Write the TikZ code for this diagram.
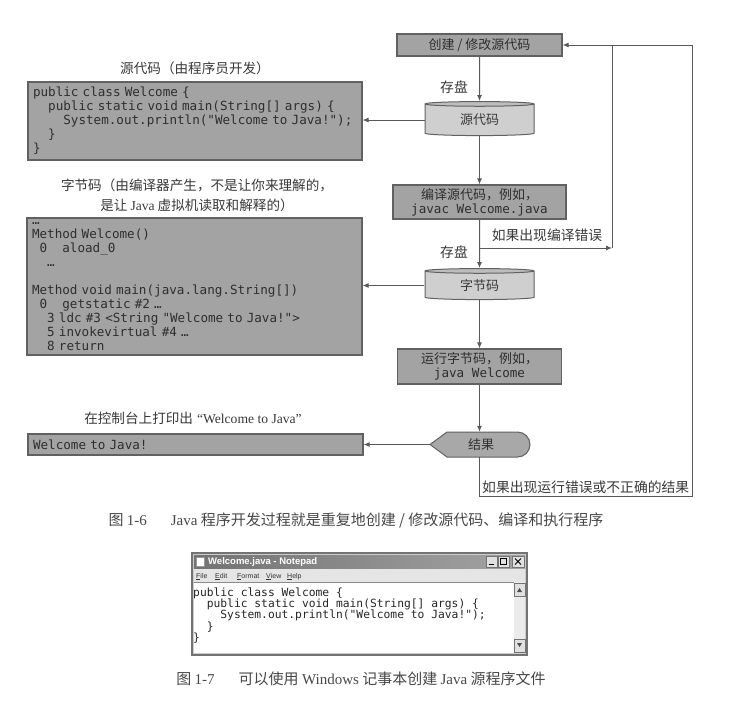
\documentclass[tikz,border=0pt]{standalone}
\usepackage{fontspec}
\setmainfont{Liberation Serif}
\setsansfont{Liberation Sans}
\setmonofont{DejaVu Sans Mono}
\newfontfamily\cjk{Noto Sans CJK SC}
\usetikzlibrary{arrows.meta,shapes.geometric}
\newcommand\codefont{\ttfamily\fontsize{12.6}{14}\selectfont}
\newcommand\ind[1]{\hspace*{\dimexpr#1\fontcharwd\font`0\relax}}

\begin{document}
\begin{tikzpicture}[
  x=1pt,y=-1pt,
  stepbox/.style={
    draw=black!62,fill=black!36,line width=1.1pt,inner sep=0pt,
    align=center,text=black!82,font=\cjk\fontsize{13}{14}\selectfont
  },
  codebox/.style={
    draw=black!62,fill=black!36,line width=1.1pt,inner xsep=5pt,
    inner ysep=0pt,align=left,text=black!82,font=\codefont
  },
  drum/.style={
    cylinder,shape border rotate=90,aspect=0.12,draw=black!62,
    line width=1pt,cylinder uses custom fill,cylinder body fill=black!19,
    cylinder end fill=black!26,minimum width=109,minimum height=34,
    inner sep=0pt,text=black!78,font=\cjk\fontsize{13}{14}\selectfont
  },
  resultfill/.style={draw=black!62,fill=black!34,line width=1pt},
  flowarrow/.style={-{Latex[length=6pt,width=5pt]},draw=black!65,line width=1pt},
  flowline/.style={draw=black!65,line width=1pt},
  flowlabel/.style={font=\cjk\fontsize{13.8}{15}\selectfont,text=black!78,inner sep=1pt},
  boxtitle/.style={font=\cjk\fontsize{13.6}{20}\selectfont,text=black!78,align=center},
  figcaption/.style={font=\cjk\fontsize{15}{16}\selectfont,text=black!72},
  wintitle/.style={font=\sffamily\bfseries\fontsize{9.5}{10}\selectfont,text=white,inner sep=0pt},
  winmenu/.style={font=\sffamily\fontsize{7}{8}\selectfont,text=black!80,inner sep=0pt},
  padcode/.style={font=\ttfamily\fontsize{11.3}{11.3}\selectfont,text=black!85,align=left,inner sep=0pt},
  winbutton/.style={draw=black!55,fill=black!12,line width=.6pt}
]
  \useasboundingbox (0,0) rectangle (736,712);

  % flow chart on the right
  \node[stepbox,minimum width=165,minimum height=22] (create) at (479.5,45) {创建 / 修改源代码};
  \node[drum] (srcdb) at (479.5,120) {源代码};
  \node[stepbox,minimum width=173,minimum height=34] (compile) at (479.5,202)
    {编译源代码，例如，\\{\codefont javac Welcome.java}};
  \node[drum,minimum height=31] (bcdb) at (479.5,285.5) {字节码};
  \node[stepbox,minimum width=164,minimum height=35] (run) at (479.5,366.5)
    {运行字节码，例如，\\{\codefont java Welcome}};
  \draw[resultfill] (430,444.5) -- (447,432) -- (517.5,432)
    arc[start angle=-90,end angle=90,radius=12.5] -- (447,457) -- cycle;
  \node[minimum width=99,minimum height=25,inner sep=0pt,text=black!80,
    font=\cjk\fontsize{13}{14}\selectfont] (res) at (479.5,444.5) {\hspace{3pt}结果};

  % what each step gives
  \node[codebox,text width=324,minimum height=78] (srccode) at (195,121) {%
public class Welcome \{\\
\ind{2}public static void main(String[] args) \{\\
\ind{4}System.out.println("Welcome to Java!");\\
\ind{2}\}\\
\}};
  \node[codebox,text width=325,minimum height=137] (bccode) at (194.5,286.5) {%
…\\
Method Welcome()\\
\ind{1}0\ind{2}aload\_0\\
\ind{2}…\\
\mbox{}\\
Method void main(java.lang.String[])\\
\ind{1}0\ind{2}getstatic \#2 …\\
\ind{2}3 ldc \#3 <String "Welcome to Java!">\\
\ind{2}5 invokevirtual \#4 …\\
\ind{2}8 return};
  \node[codebox,text width=325,minimum height=21] (outbox) at (195.5,444.5) {Welcome to Java!};

  \node[boxtitle] (srctitle) at (195,68) {源代码（由程序员开发）};
  \node[boxtitle] (bctitle) at (197,195)
    {字节码（由编译器产生，不是让你来理解的，\\是让 {\rmfamily Java} 虚拟机读取和解释的）};
  \node[boxtitle] (outtitle) at (193,418) {在控制台上打印出\hspace{4pt}{\rmfamily “Welcome to Java”}};

  \draw[flowarrow] (create) -- (srcdb);
  \draw[flowarrow] (srcdb) -- (compile);
  \draw[flowarrow] (compile) -- (bcdb);
  \draw[flowarrow] (bcdb) -- (run);
  \draw[flowarrow] (run) -- (res);
  \draw[flowarrow] (srcdb.west) -- (srcdb.west -| srccode.east);
  \draw[flowarrow] (bcdb.west) -- (bcdb.west -| bccode.east);
  \draw[flowarrow] (res.west) -- (res.west -| outbox.east);

  \node[flowlabel] (save1) at (454,87) {存盘};
  \node[flowlabel] (save2) at (454,252) {存盘};

  % back to editing when something goes wrong
  \coordinate (cfork) at (479.5,248);
  \coordinate (cturn) at (612,248);
  \coordinate (rturn) at (692,496);
  \draw[flowarrow] (cfork) -- (cturn);
  \draw[flowline] (cturn) -- (cturn |- create.east);
  \draw[flowarrow] (res.south) |- (rturn) |- (create.east);
  \node[flowlabel] (cerr) at (547,235) {如果出现编译错误};
  \node[flowlabel,anchor=south west] (rerr) at (481,495) {如果出现运行错误或不正确的结果};

  \node[figcaption] (cap6) at (356,520)
    {图 {\rmfamily 1-6}\hspace{1.6em}{\rmfamily Java} 程序开发过程就是重复地创建 / 修改源代码、编译和执行程序};

  % notepad window
  \draw[fill=black!20,draw=black!55,line width=1.2pt] (192,553) rectangle (527,655);
  \shade[left color=black!55,right color=black!36] (194,555) rectangle (525,569);
  \draw[fill=white,draw=black!40] (196,557) rectangle (204,566);
  \node[wintitle,anchor=west] (wtitle) at (208,562) {Welcome.java - Notepad};
  \draw[winbutton] (486,556) rectangle (497,567);
  \draw[winbutton] (498,556) rectangle (509,567);
  \draw[winbutton] (512,556) rectangle (524,567);
  \draw[line width=1.2pt] (488.5,564.5) -- (494,564.5);
  \draw[line width=.8pt] (500.5,558.5) rectangle (506.5,564.5);
  \draw[line width=.9pt] (515,558.5) -- (521,564.5) (515,564.5) -- (521,558.5);
  \fill[black!10] (194,569) rectangle (525,582);
  \foreach \a/\b/\x in {F/ile/196,E/dit/215,F/ormat/237,V/iew/266,H/elp/287}
    {\node[winmenu,anchor=base west] (menu\x) at (\x,578) {\underline{\a}\b};}
  \fill[white] (194,582) rectangle (514,653);
  \draw[black!45,line width=.8pt] (194,582) -- (525,582);
  \fill[black!8] (514,582) rectangle (525,653);
  \draw[winbutton] (514,583) rectangle (525,596);
  \draw[winbutton] (514,639) rectangle (525,652);
  \fill[black!70] (517,592) -- (522,592) -- (519.5,588) -- cycle;
  \fill[black!70] (517,643) -- (522,643) -- (519.5,647) -- cycle;
  \node[padcode,anchor=north west] (padtext) at (193,587.5) {%
public class Welcome \{\\
\ind{2}public static void main(String[] args) \{\\
\ind{4}System.out.println("Welcome to Java!");\\
\ind{2}\}\\
\}};

  \node[figcaption] (cap7) at (361,679)
    {图 {\rmfamily 1-7}\hspace{1.6em}可以使用 {\rmfamily Windows} 记事本创建 {\rmfamily Java} 源程序文件};
\end{tikzpicture}
\end{document}
